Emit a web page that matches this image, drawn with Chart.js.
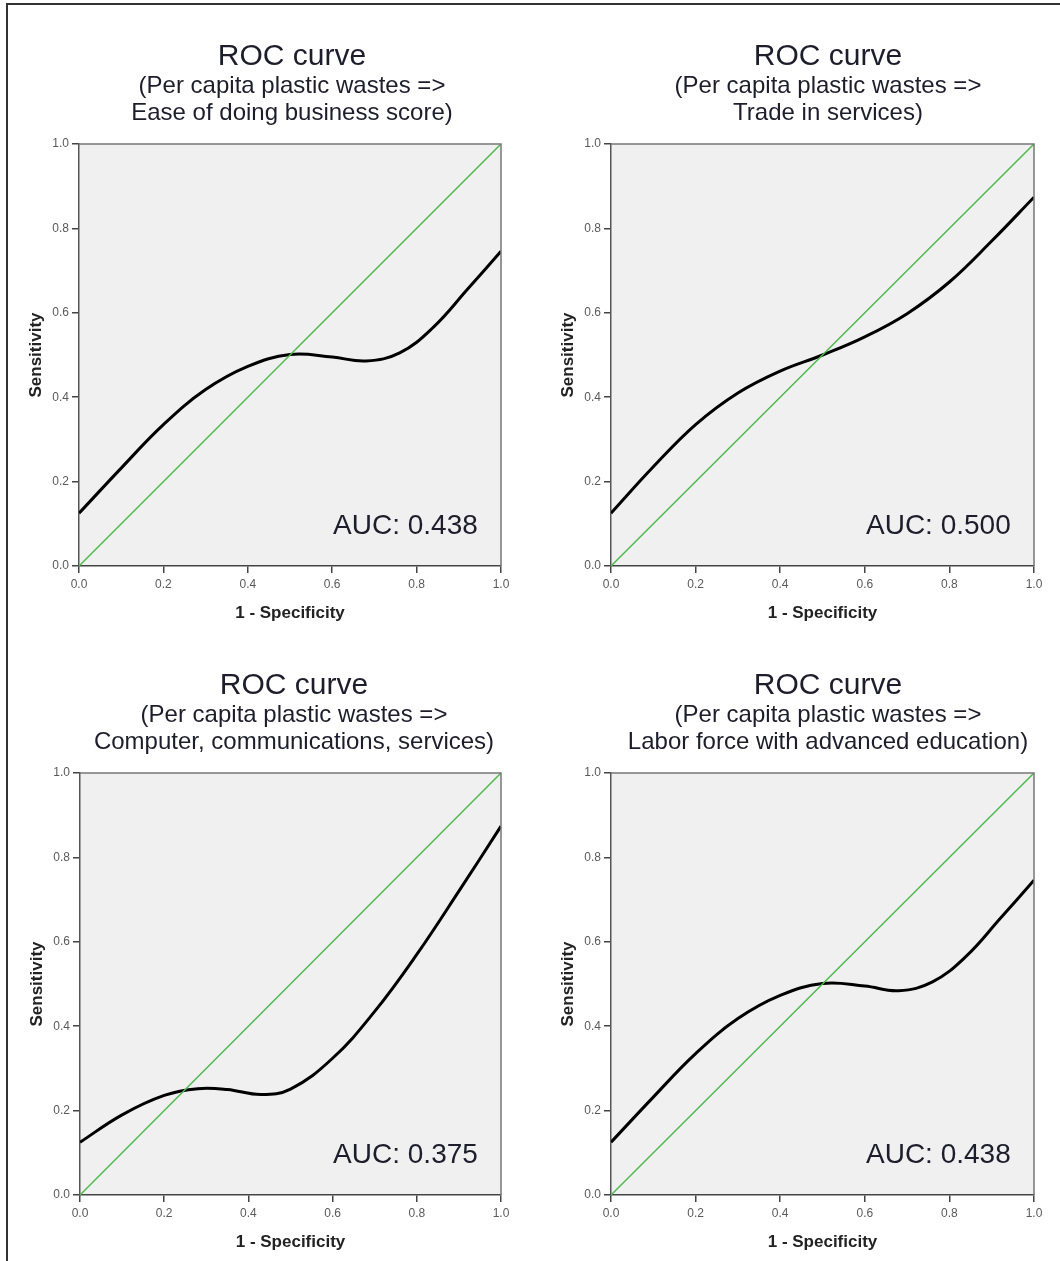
<!DOCTYPE html>
<html>
<head>
<meta charset="utf-8">
<script src="https://cdn.jsdelivr.net/npm/chart.js@4.4.0/dist/chart.umd.min.js"></script>
<style>
  body { margin: 0; background: #fff; }
  #page { position: relative; width: 1060px; height: 1261px; overflow: hidden; background: #fff; }
  #frame { position: absolute; left: 6px; top: 3px; width: 1100px; height: 1300px;
           border-left: 2px solid #333; border-top: 2px solid #333; }
  canvas { position: absolute; }
</style>
</head>
<body>
<div id="page">
  <div id="frame"></div>
  <canvas id="roc1" width="530" height="630" style="left:0px;top:0px"></canvas>
  <canvas id="roc2" width="530" height="630" style="left:530px;top:0px"></canvas>
  <canvas id="roc3" width="530" height="631" style="left:0px;top:630px"></canvas>
  <canvas id="roc4" width="530" height="631" style="left:530px;top:630px"></canvas>
</div>
<script>
  // 1 - Specificity (x) and Sensitivity (y)
  const fprEase = [0, 0.1, 0.2, 0.3, 0.4, 0.5, 0.6, 0.68, 0.76, 0.84, 0.92, 1.0];
  const sensEase = [0.125, 0.232, 0.335, 0.418, 0.473, 0.501, 0.495, 0.486, 0.505, 0.566, 0.655, 0.746];

  const fprTrade = [0, 0.1, 0.2, 0.3, 0.4, 0.5, 0.6, 0.7, 0.8, 0.9, 1.0];
  const sensTrade = [0.125, 0.235, 0.335, 0.41, 0.462, 0.50, 0.543, 0.598, 0.673, 0.77, 0.874];

  const fprComputer = [0, 0.1, 0.2, 0.28, 0.35, 0.43, 0.5, 0.6, 0.7, 0.8, 0.9, 1.0];
  const sensComputer = [0.125, 0.19, 0.236, 0.252, 0.25, 0.238, 0.251, 0.324, 0.435, 0.57, 0.72, 0.874];

  const fprLabor = [0, 0.1, 0.2, 0.3, 0.4, 0.5, 0.6, 0.68, 0.76, 0.84, 0.92, 1.0];
  const sensLabor = [0.125, 0.232, 0.335, 0.418, 0.473, 0.501, 0.495, 0.484, 0.505, 0.566, 0.655, 0.746];

  const refLine = [0, 1];
  const tickValues = [0, 0.2, 0.4, 0.6, 0.8, 1.0];

  const aucLabels = ["AUC: 0.438", "AUC: 0.500", "AUC: 0.375", "AUC: 0.438"];
  const subtitles = [
    ["(Per capita plastic wastes =>", "Ease of doing business score)"],
    ["(Per capita plastic wastes =>", "Trade in services)"],
    ["(Per capita plastic wastes =>", "Computer, communications, services)"],
    ["(Per capita plastic wastes =>", "Labor force with advanced education)"]
  ];

  const FONT = "'Liberation Sans', Arial, Helvetica, sans-serif";

  // plot box of each panel, relative to its canvas
  const panels = [
    { id: "roc1", fpr: fprEase, sens: sensEase, left: 79, right: 501, top: 144, bottom: 566, titleX: 292 },
    { id: "roc2", fpr: fprTrade, sens: sensTrade, left: 81, right: 504, top: 144, bottom: 566, titleX: 298 },
    { id: "roc3", fpr: fprComputer, sens: sensComputer, left: 80, right: 501, top: 143, bottom: 565, titleX: 294 },
    { id: "roc4", fpr: fprLabor, sens: sensLabor, left: 81, right: 504, top: 143, bottom: 565, titleX: 298 }
  ];

  const rocDecor = {
    id: "rocDecor",
    beforeDraw(chart) {
      const a = chart.chartArea, ctx = chart.ctx;
      ctx.save();
      ctx.fillStyle = "#f0f0f0";
      ctx.fillRect(a.left, a.top, a.right - a.left, a.bottom - a.top);
      ctx.restore();
    },
    afterDatasetsDraw(chart, args, opts) {
      const a = chart.chartArea, ctx = chart.ctx;
      ctx.save();
      // top and right frame
      ctx.strokeStyle = "#777";
      ctx.lineWidth = 1.5;
      ctx.beginPath();
      ctx.moveTo(a.left, a.top);
      ctx.lineTo(a.right, a.top);
      ctx.lineTo(a.right, a.bottom);
      ctx.stroke();

      // titles
      ctx.fillStyle = "#1d1d2b";
      ctx.textAlign = "center";
      ctx.textBaseline = "middle";
      ctx.font = "30px " + FONT;
      ctx.fillText("ROC curve", opts.titleX, a.top - 87);
      ctx.font = "24px " + FONT;
      ctx.fillText(opts.sub[0], opts.titleX, a.top - 58);
      ctx.fillText(opts.sub[1], opts.titleX, a.top - 31);

      // axis titles
      ctx.fillStyle = "#222";
      ctx.font = "bold 17px " + FONT;
      ctx.fillText("1 - Specificity", (a.left + a.right) / 2, a.bottom + 47);
      ctx.save();
      ctx.translate(a.left - 43, (a.top + a.bottom) / 2);
      ctx.rotate(-Math.PI / 2);
      ctx.fillText("Sensitivity", 0, 0);
      ctx.restore();

      // AUC label
      const xs = chart.scales.x, ys = chart.scales.y;
      ctx.fillStyle = "#1d1d2b";
      ctx.font = "28px " + FONT;
      ctx.textAlign = "right";
      ctx.fillText(opts.auc, xs.getPixelForValue(0.945), ys.getPixelForValue(0.094));
      ctx.restore();
    }
  };

  panels.forEach(function (p, i) {
    const canvas = document.getElementById(p.id);
    const curve = p.fpr.map((x, k) => ({ x: x, y: p.sens[k] }));
    const diag = refLine.map(v => ({ x: v, y: v }));

    new Chart(canvas, {
      type: "line",
      data: {
        datasets: [
          { data: diag, borderColor: "#4fb84f", borderWidth: 1.5, pointRadius: 0, tension: 0 },
          { data: curve, borderColor: "#000", borderWidth: 3, pointRadius: 0, tension: 0.4 }
        ]
      },
      options: {
        responsive: false,
        animation: false,
        devicePixelRatio: 1,
        layout: { padding: { left: 0, top: p.top, right: canvas.width - p.right, bottom: 0 } },
        plugins: {
          legend: { display: false },
          tooltip: { enabled: false },
          rocDecor: { titleX: p.titleX, sub: subtitles[i], auc: aucLabels[i] }
        },
        scales: {
          x: {
            type: "linear",
            min: 0,
            max: 1,
            afterBuildTicks: s => { s.ticks = tickValues.map(v => ({ value: v })); },
            afterFit: s => { s.height = canvas.height - p.bottom; },
            ticks: {
              callback: v => Number(v).toFixed(1),
              font: { family: FONT, size: 12 },
              color: "#5a5a5a",
              padding: 4,
              maxRotation: 0,
              autoSkip: false
            },
            grid: { drawOnChartArea: false, drawTicks: true, tickLength: 7, tickColor: "#444", lineWidth: 1.5 },
            border: { color: "#444", width: 1.5 }
          },
          y: {
            type: "linear",
            min: 0,
            max: 1,
            afterBuildTicks: s => { s.ticks = tickValues.map(v => ({ value: v })); },
            afterFit: s => { s.width = p.left; },
            ticks: {
              callback: v => Number(v).toFixed(1),
              font: { family: FONT, size: 12 },
              color: "#5a5a5a",
              padding: 3,
              autoSkip: false
            },
            grid: { drawOnChartArea: false, drawTicks: true, tickLength: 7, tickColor: "#444", lineWidth: 1.5 },
            border: { color: "#555", width: 1.5 }
          }
        }
      },
      plugins: [rocDecor]
    });
  });
</script>
</body>
</html>
